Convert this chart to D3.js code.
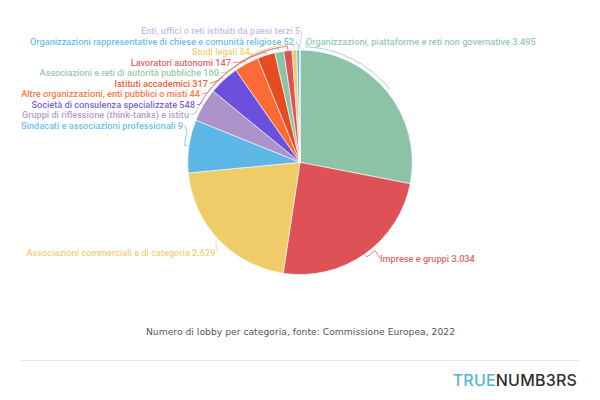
<!DOCTYPE html>
<html lang="en">
<head>
    <meta charset="utf-8">
    <title>Lobby per categoria</title>
    <script src="https://d3js.org/d3.v7.min.js"></script>
    <style>
        html, body { margin: 0; padding: 0; background: #fff; }
        svg { display: block; }
    </style>
</head>
<body>
    <script type="text/javascript">
        // data, clockwise from 12 o'clock
        var categories = [
            "Organizzazioni, piattaforme e reti non governative 3.495",
            "Imprese e gruppi 3.034",
            "Associazioni commerciali e di categoria 2.629",
            "Sindacati e associazioni professionali 9",
            "Gruppi di riflessione (think-tanks) e istitu",
            "Società di consulenza specializzate 548",
            "Altre organizzazioni, enti pubblici o misti 44",
            "Istituti accademici 317",
            "Associazioni e reti di autorità pubbliche 160",
            "Lavoratori autonomi 147",
            "Studi legali 84",
            "Organizzazioni rappresentative di chiese e comunità religiose 52",
            "Enti, uffici o reti istituiti da paesi terzi 5"
        ];
        var values = [3495, 3034, 2629, 950, 600, 548, 440, 317, 160, 147, 84, 52, 5];
        var colors = ["#8cc3a6", "#de5257", "#f0cb69", "#5db7e6", "#ab92c8", "#6a50dc", "#fe6a35",
                      "#e64c22", "#8cc3a6", "#de5257", "#f0cb69", "#5db7e6", "#c5b3e0"];

        // label placement (anchor x, baseline y)
        var labelX = [306, 380, 215.5, 183, 189, 195, 200, 208, 219, 231, 250, 294, 300];
        var labelY = [44.5, 261.5, 256, 128.5, 118, 107.5, 97, 86.5, 76, 65.5, 55, 44.5, 33.5];
        var labelAnchor = ["start", "start", "end", "end", "end", "end", "end", "end", "end", "end", "end", "end", "end"];

        // leader lines: where the line leaves the arc (degrees) and the arc radius offset
        var leaveDeg = [3, 139.6, 226.7, 285, 295, 300, 307, 315, 321, 329, 335, 358.8, 359.9];
        var leaderOff = [3.5, 3.5, 3.5, 4.5, 3.5, 3.5, 3.5, 3.5, 4, 4.5, 6, 5, 4];

        var w = 600, h = 400;
        var cx = 300, cy = 162.3, r = 112.3;

        var svg = d3.select("body").append("svg")
            .attr("width", w)
            .attr("height", h);

        var pie = d3.pie().sort(null).value(function(d) { return d; });
        var arcs = pie(values);
        var arc = d3.arc().innerRadius(0).outerRadius(r);

        var g = svg.append("g").attr("transform", "translate(" + cx + "," + cy + ")");

        g.selectAll("path.slice")
            .data(arcs)
            .enter()
            .append("path")
            .attr("class", "slice")
            .attr("d", arc)
            .attr("fill", function(d, i) { return colors[i]; })
            .attr("stroke", "#fff")
            .attr("stroke-width", 0.6);

        function polar(a, rr) { return [rr * Math.sin(a), -rr * Math.cos(a)]; }

        // tick at the slice middle, then along the arc, then over to the label
        g.selectAll("path.leader")
            .data(arcs)
            .enter()
            .append("path")
            .attr("class", "leader")
            .attr("fill", "none")
            .attr("stroke", function(d, i) { return colors[i]; })
            .attr("stroke-width", 0.7)
            .attr("d", function(d, i) {
                var rb = r + leaderOff[i];
                var mid = (d.startAngle + d.endAngle) / 2;
                var leave = leaveDeg[i] * Math.PI / 180;
                var sweep = leave > mid ? 1 : 0;
                var lx = labelX[i] - cx + (labelAnchor[i] == "start" ? 0 : 2);
                var ly = labelY[i] - cy - 3;
                return "M" + polar(mid, r + 1) + "L" + polar(mid, rb) +
                       "A" + rb + "," + rb + " 0 0 " + sweep + " " + polar(leave, rb) +
                       "L" + lx + "," + ly;
            });

        svg.selectAll("text.label")
            .data(categories)
            .enter()
            .append("text")
            .attr("class", "label")
            .attr("x", function(d, i) { return labelX[i]; })
            .attr("y", function(d, i) { return labelY[i]; })
            .attr("text-anchor", function(d, i) { return labelAnchor[i]; })
            .attr("fill", function(d, i) { return colors[i]; })
            .attr("fill-opacity", 0.92)
            .attr("font-family", "Roboto")
            .attr("font-size", 9.18)
            .attr("font-weight", 500)
            .text(function(d) { return d; });

        svg.append("text")
            .attr("x", 300.5)
            .attr("y", 335)
            .attr("text-anchor", "middle")
            .attr("font-family", "DejaVu Sans")
            .attr("font-size", 9.23)
            .attr("fill", "#555")
            .text("Numero di lobby per categoria, fonte: Commissione Europea, 2022");

        svg.append("line")
            .attr("x1", 21).attr("x2", 579)
            .attr("y1", 360.5).attr("y2", 360.5)
            .attr("stroke", "#e8e8e8");

        var logo = svg.append("text")
            .attr("x", 577)
            .attr("y", 385.5)
            .attr("text-anchor", "end")
            .attr("font-family", "Inter")
            .attr("font-size", 16)
            .attr("font-weight", 500)
            .attr("letter-spacing", 0.2);
        logo.append("tspan").attr("fill", "#4fb9cc").text("TRUE");
        logo.append("tspan").attr("fill", "#2e2e2e").text("NUMB3RS");
    </script>
</body>
</html>
